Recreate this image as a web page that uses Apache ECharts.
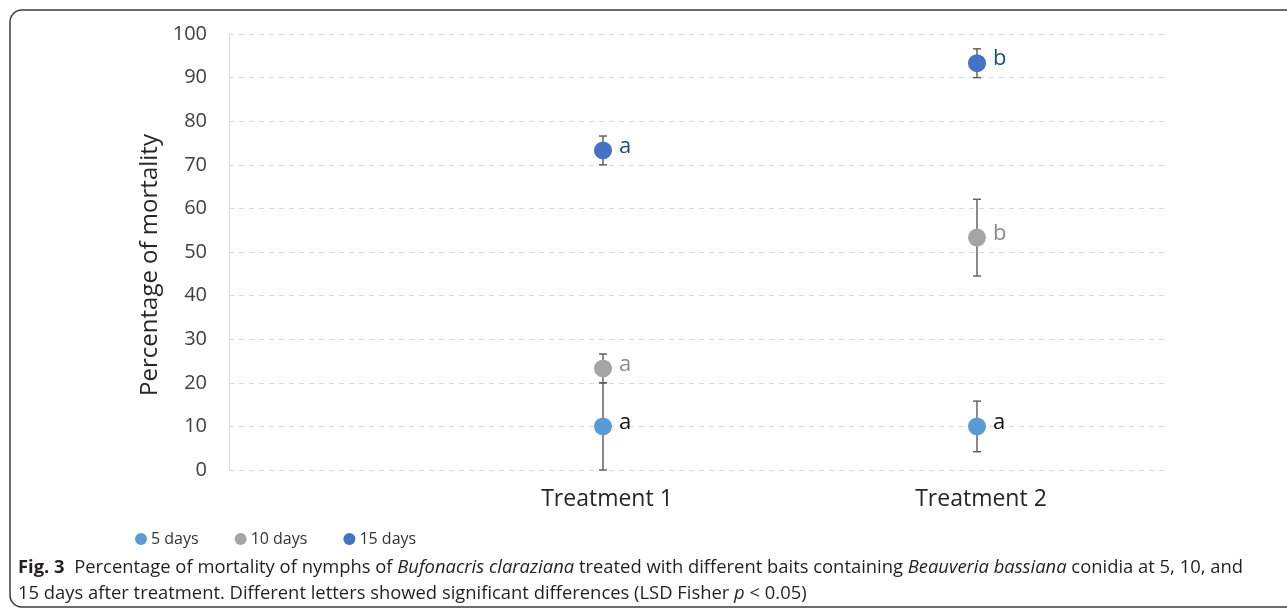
<!DOCTYPE html>
<html>
<head>
<meta charset="utf-8">
<script src="https://cdn.jsdelivr.net/npm/echarts@6/dist/echarts.min.js"></script>
<style>html,body{margin:0;padding:0;background:#fff;overflow:hidden;}#c{width:1287px;height:613px;}</style>
</head>
<body>
<div id="c"></div>
<script>
var categories = ['Treatment 1', 'Treatment 2'];
var catPos = [2, 4];
var seriesNames = ['5 days', '10 days', '15 days'];
var mean5 = [10, 10];
var err5 = [10, 5.8];
var mean10 = [23.3, 53.3];
var err10 = [3.3, 8.8];
var mean15 = [73.3, 93.3];
var err15 = [3.3, 3.3];
var letters5 = ['a', 'a'];
var letters10 = ['a', 'b'];
var letters15 = ['a', 'b'];
var yTicks = [0, 100, 10];

var FONT = 'Open Sans';
var colors = ['#5B9BD5', '#A5A5A5', '#4472C4'];
var labelColors = ['#111111', '#8C8C8C', '#1F4E79'];

function pts(means, letters) {
  return means.map(function (m, i) { return { value: [catPos[i], m], letter: letters[i] }; });
}
function errs(means, e) {
  return means.map(function (m, i) { return [catPos[i], m - e[i], m + e[i]]; });
}

var allErr = errs(mean5, err5).concat(errs(mean10, err10)).concat(errs(mean15, err15));

var chart = echarts.init(document.getElementById('c'));

function scatterSeries(idx, means, letters) {
  return {
    name: seriesNames[idx],
    type: 'scatter',
    symbol: 'circle',
    symbolSize: 18,
    z: 5,
    itemStyle: { color: colors[idx], opacity: 1 },
    label: {
      show: true,
      position: 'right',
      distance: 7,
      offset: [0, -4],
      formatter: function (p) { return p.data.letter; },
      fontFamily: FONT,
      fontSize: 22,
      color: labelColors[idx]
    },
    emphasis: { disabled: true },
    data: pts(means, letters)
  };
}

var capStyle = { fontFamily: FONT, fontSize: 18.4, color: '#231f20', lineHeight: 26, fontWeight: 'normal' };
var bst = { fill: 'none', stroke: '#3a3a3a', lineWidth: 1.5 };

chart.setOption({
  animation: false,
  color: colors,
  title: {
    left: 13,
    top: 550,
    text: '{b|Fig. 3}{n|  Percentage of mortality of nymphs of }{i|Bufonacris claraziana}{n| treated with different baits containing }{i|Beauveria bassiana}{n| conidia at 5, 10, and}\n{n|15 days after treatment. Different letters showed significant differences (LSD Fisher }{i|p}{n| < 0.05)}',
    textStyle: {
      fontFamily: FONT, fontSize: 18.4, color: '#231f20', lineHeight: 26, fontWeight: 'normal',
      rich: {
        b: Object.assign({}, capStyle, { fontWeight: 'bold' }),
        n: Object.assign({}, capStyle),
        i: Object.assign({}, capStyle, { fontStyle: 'italic' })
      }
    }
  },
  graphic: [
    { type: 'line', silent: true, shape: { x1: 22, y1: 10, x2: 1300, y2: 10 }, style: bst },
    { type: 'line', silent: true, shape: { x1: 10, y1: 22, x2: 10, y2: 595 }, style: bst },
    { type: 'line', silent: true, shape: { x1: 22, y1: 607, x2: 1300, y2: 607 }, style: bst },
    { type: 'arc', silent: true, shape: { cx: 22, cy: 22, r: 12, startAngle: Math.PI, endAngle: Math.PI * 1.5 }, style: bst },
    { type: 'arc', silent: true, shape: { cx: 22, cy: 595, r: 12, startAngle: Math.PI * 0.5, endAngle: Math.PI }, style: bst }
  ],
  legend: {
    left: 130,
    top: 526,
    itemWidth: 12,
    itemHeight: 12,
    itemGap: 36,
    icon: 'circle',
    data: seriesNames,
    textStyle: { fontFamily: FONT, fontSize: 16, color: '#333333', padding: [0, 0, 0, -1] }
  },
  grid: { left: 229, right: 123, top: 34, bottom: 143, containLabel: false },
  xAxis: {
    type: 'value',
    min: 0, max: 5, interval: 1,
    axisLine: { show: false },
    axisTick: { show: false },
    splitLine: { show: false },
    axisLabel: {
      margin: 18,
      fontFamily: FONT, fontSize: 23, color: '#262626',
      padding: [0, 0, 0, 8],
      formatter: function (v) { var k = catPos.indexOf(v); return k >= 0 ? categories[k] : ''; }
    }
  },
  yAxis: {
    type: 'value',
    min: yTicks[0], max: yTicks[1], interval: yTicks[2],
    name: 'Percentage of mortality',
    nameLocation: 'middle',
    nameGap: 52,
    nameTextStyle: { fontFamily: FONT, fontSize: 24, color: '#262626', padding: [0, 0, 0, -26] },
    axisLine: { show: true, lineStyle: { color: '#d9d9d9', width: 1 } },
    axisTick: { show: false },
    splitLine: { show: true, lineStyle: { color: '#d9d9d9', type: [5, 5], width: 1 } },
    axisLabel: { margin: 22, fontFamily: FONT, fontSize: 20, color: '#404040' }
  },
  series: [
    {
      type: 'custom',
      name: 'err',
      z: 2,
      silent: true,
      renderItem: function (params, api) {
        var x = api.value(0);
        var lo = api.coord([x, api.value(1)]);
        var hi = api.coord([x, api.value(2)]);
        var w = 4;
        var st = { stroke: '#595959', lineWidth: 1.4 };
        return {
          type: 'group',
          children: [
            { type: 'line', shape: { x1: lo[0], y1: lo[1], x2: hi[0], y2: hi[1] }, style: st },
            { type: 'line', shape: { x1: lo[0] - w, y1: lo[1], x2: lo[0] + w, y2: lo[1] }, style: st },
            { type: 'line', shape: { x1: hi[0] - w, y1: hi[1], x2: hi[0] + w, y2: hi[1] }, style: st }
          ]
        };
      },
      encode: { x: 0, y: [1, 2] },
      data: allErr
    },
    scatterSeries(0, mean5, letters5),
    scatterSeries(1, mean10, letters10),
    scatterSeries(2, mean15, letters15)
  ]
});
</script>
</body>
</html>
